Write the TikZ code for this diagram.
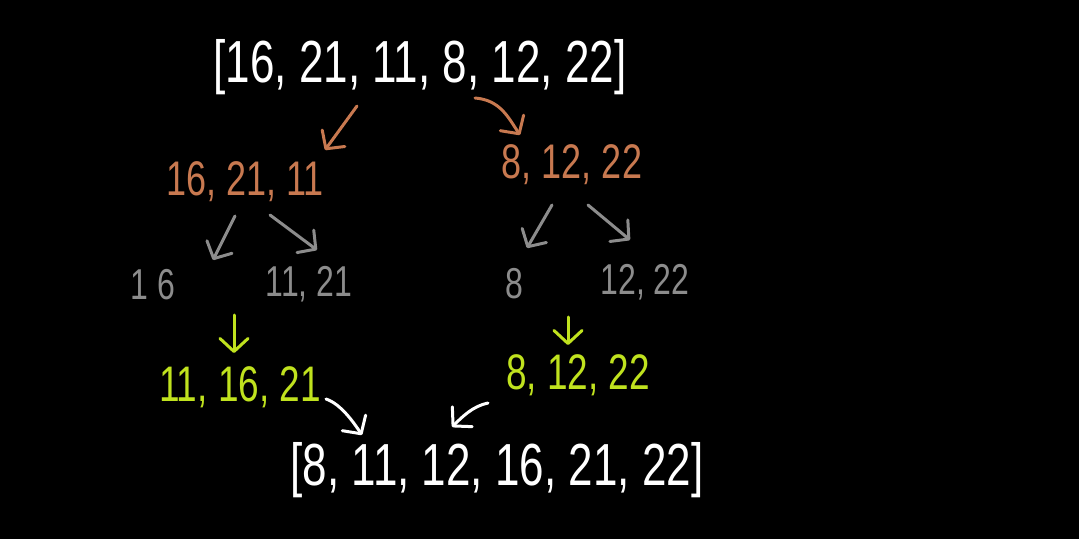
\documentclass[tikz,border=0pt]{standalone}
\usepackage{graphicx}
\usepackage{fontspec}
\setmainfont{Liberation Sans}
\usetikzlibrary{arrows.meta}
\definecolor{splitorange}{RGB}{200,121,80}
\definecolor{leafgray}{RGB}{140,140,140}
\definecolor{mergegreen}{RGB}{192,226,30}
\newcommand{\tall}[1]{\scalebox{1}[1.35]{#1}}

\begin{document}
\begin{tikzpicture}[x=0.5pt,y=-0.5pt,
  list/.style={text=white,font=\fontsize{22}{24}\selectfont},
  half/.style={text=splitorange,font=\fontsize{18}{20}\selectfont},
  leaf/.style={text=leafgray,font=\fontsize{16}{18}\selectfont},
  merged/.style={text=mergegreen,font=\fontsize{18.5}{21}\selectfont},
  arr/.style={line width=1.5pt,line cap=round,-{Straight Barb[round,length=6.5pt,width=14pt]}}]
\fill[black] (0,0) rectangle (1079,539);
\node[list] (top) at (420,67) {\tall{[16, 21, 11, 8, 12, 22]}};
\node[half] (lhalf) at (245,182) {\tall{16, 21, 11}};
\node[half] (rhalf) at (572,165) {\tall{8, 12, 22}};
\node[leaf] (l1) at (153,285) {\tall{1 6}};
\node[leaf] (l2) at (309,284) {\tall{11, 21}};
\node[leaf] (r1) at (514,284) {\tall{8}};
\node[leaf] (r2) at (645,282) {\tall{12, 22}};
\node[merged] (lmerge) at (240,387) {\tall{11, 16, 21}};
\node[merged] (rmerge) at (578,375) {\tall{8, 12, 22}};
\node[list] (result) at (497,470) {\tall{[8, 11, 12, 16, 21, 22]}};
% split
\draw[arr,splitorange] (top) ++(-63,39) -- ++(-32,44);
\draw[arr,splitorange] (top) ++(55,31) .. controls +(25,2) and +(-12,-18) .. ++(45,37);
\draw[arr,leafgray] (lhalf) ++(-10,34) -- ++(-22,44);
\draw[arr,leafgray] (lhalf) ++(25,33) -- ++(47,35);
\draw[arr,leafgray] (rhalf) ++(-20,40) -- ++(-25,43);
\draw[arr,leafgray] (rhalf) ++(16,40) -- ++(42,35);
% merge
\draw[arr,mergegreen] (lmerge) ++(-6,-72) -- ++(0,38);
\draw[arr,mergegreen] (rmerge) ++(-10,-58) -- ++(0,28);
\draw[arr,white] (lmerge) ++(86,12) .. controls +(15,5) and +(-8,-12) .. ++(36,36);
\draw[arr,white] (rmerge) ++(-90,28) .. controls +(-15,3) and +(10,-10) .. ++(-36,24);
\end{tikzpicture}
\end{document}
